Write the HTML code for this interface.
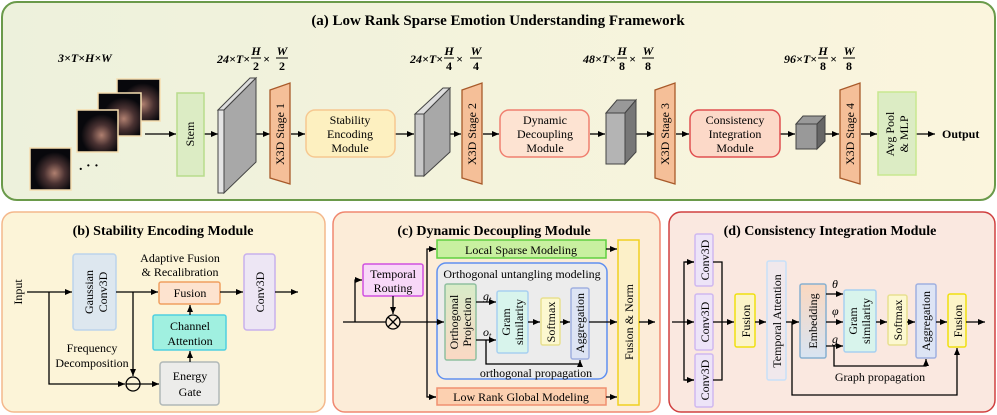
<!DOCTYPE html>
<html><head><meta charset="utf-8"><style>
html,body{margin:0;padding:0;background:#fff}
svg{display:block}
svg text{font-family:"Liberation Serif","DejaVu Serif",serif}
</style></head><body>
<svg width="997" height="415" viewBox="0 0 997 415" xmlns="http://www.w3.org/2000/svg" font-family="Liberation Serif, DejaVu Serif, serif">
<defs>
<marker id="ar" markerWidth="8" markerHeight="8" refX="7" refY="4" orient="auto" markerUnits="userSpaceOnUse"><path d="M0,1 L7,4 L0,7 z" fill="#000"/></marker>
<linearGradient id="ga" x1="0" x2="1"><stop offset="0" stop-color="#edf1dc"/><stop offset="1" stop-color="#fbf5dd"/></linearGradient>
<linearGradient id="gop" x1="0" y1="0" x2="0" y2="1"><stop offset="0" stop-color="#d8ecc8"/><stop offset="1" stop-color="#fbd8c4"/></linearGradient>
<linearGradient id="gem" x1="0" y1="0" x2="0" y2="1"><stop offset="0" stop-color="#fad8c0"/><stop offset="1" stop-color="#d8e4f2"/></linearGradient>
<radialGradient id="face" cx="0.6" cy="0.6" r="0.5"><stop offset="0" stop-color="#b08070"/><stop offset="0.5" stop-color="#4a3232"/><stop offset="1" stop-color="#08080c"/></radialGradient>
</defs>
<rect x="2" y="2" width="993" height="198" rx="15" fill="url(#ga)" stroke="#6a9a4a" stroke-width="2"/>
<text x="498" y="25" font-size="15" font-weight="bold" text-anchor="middle">(a) Low Rank Sparse Emotion Understanding Framework</text>
<g font-size="12" font-style="italic" font-weight="bold">
<text x="58" y="62">3×T×H×W</text>
<text x="250" y="63" text-anchor="end">24×T×</text><text x="256" y="55" text-anchor="middle">H</text><line x1="251" y1="58" x2="261" y2="58" stroke="#000"/><text x="256" y="70" text-anchor="middle" font-style="normal">2</text><text x="263" y="63">×</text><text x="282" y="55" text-anchor="middle">W</text><line x1="276" y1="58" x2="288" y2="58" stroke="#000"/><text x="282" y="70" text-anchor="middle" font-style="normal">2</text>
<text x="443" y="63" text-anchor="end">24×T×</text><text x="449" y="55" text-anchor="middle">H</text><line x1="444" y1="58" x2="454" y2="58" stroke="#000"/><text x="449" y="70" text-anchor="middle" font-style="normal">4</text><text x="456" y="63">×</text><text x="476" y="55" text-anchor="middle">W</text><line x1="470" y1="58" x2="482" y2="58" stroke="#000"/><text x="476" y="70" text-anchor="middle" font-style="normal">4</text>
<text x="616" y="63" text-anchor="end">48×T×</text><text x="622" y="55" text-anchor="middle">H</text><line x1="617" y1="58" x2="627" y2="58" stroke="#000"/><text x="622" y="70" text-anchor="middle" font-style="normal">8</text><text x="629" y="63">×</text><text x="648" y="55" text-anchor="middle">W</text><line x1="642" y1="58" x2="654" y2="58" stroke="#000"/><text x="648" y="70" text-anchor="middle" font-style="normal">8</text>
<text x="817" y="63" text-anchor="end">96×T×</text><text x="823" y="55" text-anchor="middle">H</text><line x1="818" y1="58" x2="828" y2="58" stroke="#000"/><text x="823" y="70" text-anchor="middle" font-style="normal">8</text><text x="830" y="63">×</text><text x="849" y="55" text-anchor="middle">W</text><line x1="843" y1="58" x2="855" y2="58" stroke="#000"/><text x="849" y="70" text-anchor="middle" font-style="normal">8</text>
</g>
<g stroke="#f5deb0" stroke-width="1.5">
<rect x="117" y="79" width="43" height="42" fill="url(#face)"/>
<rect x="98" y="93" width="43" height="43" fill="url(#face)"/>
<rect x="77" y="110" width="41" height="42" fill="url(#face)"/>
<rect x="30" y="148" width="41" height="42" fill="url(#face)"/>
</g>
<text x="79" y="170" font-size="14" font-weight="bold">. · ·</text>
<g stroke="#000" stroke-width="1.3" marker-end="url(#ar)">
<line x1="145" y1="134" x2="176" y2="134"/><line x1="204" y1="134" x2="218" y2="134"/>
<line x1="248" y1="134" x2="270" y2="134"/><line x1="291" y1="134" x2="305" y2="134"/>
<line x1="395" y1="134" x2="414" y2="134"/><line x1="438" y1="134" x2="461" y2="134"/>
<line x1="483" y1="134" x2="499" y2="134"/><line x1="590" y1="134" x2="605" y2="134"/>
<line x1="633" y1="134" x2="654" y2="134"/><line x1="676" y1="134" x2="689" y2="134"/>
<line x1="780" y1="134" x2="795" y2="134"/><line x1="821" y1="134" x2="839" y2="134"/>
<line x1="861" y1="134" x2="877" y2="134"/><line x1="916" y1="134" x2="935" y2="134"/>
</g>
<text x="942" y="138" font-size="12" font-weight="bold">Output</text>
<rect x="177" y="93" width="27" height="83" fill="#dcecc4" stroke="#b8dc8c" stroke-width="1.5"/>
<text transform="translate(194,134) rotate(-90)" font-size="12" text-anchor="middle">Stem</text>
<g stroke="#444" stroke-width="1">
<polygon points="218,110 250,78 256,78 224,110" fill="#ddd"/>
<polygon points="224,110 256,78 256,162 224,193" fill="#a8a8a8"/>
<rect x="218" y="110" width="6" height="83" fill="#e4e4e4"/>
<polygon points="415,114 443,88 450,88 424,114" fill="#ddd"/>
<polygon points="424,114 450,88 450,152 424,176" fill="#a8a8a8"/>
<rect x="415" y="114" width="9" height="62" fill="#c8c8c8"/>
<polygon points="606,113 617,100 636,100 625,113" fill="#999"/>
<polygon points="625,113 636,100 636,152 625,164" fill="#777"/>
<rect x="606" y="113" width="19" height="51" fill="#b4b4b4"/>
<polygon points="796,124 803,116 825,116 817,124" fill="#999"/>
<polygon points="817,124 825,116 825,141 817,149" fill="#666"/>
<rect x="796" y="124" width="21" height="25" fill="#999"/>
</g>
<g fill="#f5bf98" stroke="#a85a2a" stroke-width="1.3">
<polygon points="270,90 290,83 290,184 270,178"/>
<polygon points="462,90 482,83 482,184 462,178"/>
<polygon points="655,90 675,83 675,184 655,178"/>
<polygon points="840,90 860,83 860,184 840,178"/>
</g>
<g font-size="12" text-anchor="middle">
<text transform="translate(284,134) rotate(-90)">X3D Stage 1</text>
<text transform="translate(476,134) rotate(-90)">X3D Stage 2</text>
<text transform="translate(669,134) rotate(-90)">X3D Stage 3</text>
<text transform="translate(854,134) rotate(-90)">X3D Stage 4</text>
</g>
<rect x="306" y="110" width="89" height="47" rx="9" fill="#fdf0c0" stroke="#f6c890" stroke-width="1.5"/>
<rect x="500" y="110" width="89" height="47" rx="9" fill="#fde3d2" stroke="#f08070" stroke-width="1.5"/>
<rect x="690" y="110" width="90" height="47" rx="9" fill="#fcd9c8" stroke="#e05050" stroke-width="1.5"/>
<g font-size="12" text-anchor="middle">
<text x="350" y="124">Stability</text><text x="350" y="138">Encoding</text><text x="350" y="152">Module</text>
<text x="545" y="124">Dynamic</text><text x="545" y="138">Decoupling</text><text x="545" y="152">Module</text>
<text x="735" y="124">Consistency</text><text x="735" y="138">Integration</text><text x="735" y="152">Module</text>
</g>
<rect x="878" y="92" width="38" height="83" fill="#dcecc4" stroke="#c8e890" stroke-width="1.5"/>
<text transform="translate(894,134) rotate(-90)" font-size="12" text-anchor="middle">Avg Pool</text>
<text transform="translate(908,134) rotate(-90)" font-size="12" text-anchor="middle">&amp; MLP</text>

<rect x="2" y="212" width="323" height="200" rx="12" fill="#fcf4d8" stroke="#f4b88c" stroke-width="1.5"/>
<text x="163" y="235" font-size="14" font-weight="bold" text-anchor="middle">(b) Stability Encoding Module</text>
<text transform="translate(22,292) rotate(-90)" font-size="12" text-anchor="middle">Input</text>
<rect x="73" y="254" width="43" height="76" rx="3" fill="#dde7ef" stroke="#bcd4ec" stroke-width="1.5"/>
<text transform="translate(93,292) rotate(-90)" font-size="12" text-anchor="middle">Gaussian</text>
<text transform="translate(107,292) rotate(-90)" font-size="12" text-anchor="middle">Conv3D</text>
<rect x="159" y="282" width="61" height="22" rx="2" fill="#fde3cf" stroke="#f0a060" stroke-width="1.5"/>
<text x="190" y="297" font-size="12" text-anchor="middle">Fusion</text>
<text x="180" y="262" font-size="12" text-anchor="middle">Adaptive Fusion</text>
<text x="180" y="276" font-size="12" text-anchor="middle">&amp; Recalibration</text>
<rect x="244" y="254" width="31" height="76" rx="3" fill="#ede6f4" stroke="#c8b0ec" stroke-width="1.5"/>
<text transform="translate(264,292) rotate(-90)" font-size="12" text-anchor="middle">Conv3D</text>
<rect x="153" y="315" width="73" height="35" rx="2" fill="#a0f0e0" stroke="#50d0e0" stroke-width="1.5"/>
<text x="190" y="330" font-size="12" text-anchor="middle">Channel</text><text x="190" y="345" font-size="12" text-anchor="middle">Attention</text>
<rect x="160" y="362" width="59" height="43" rx="3" fill="#ececea" stroke="#b0b8b8" stroke-width="1.5"/>
<text x="190" y="380" font-size="12" text-anchor="middle">Energy</text><text x="190" y="396" font-size="12" text-anchor="middle">Gate</text>
<text x="92" y="352" font-size="12" text-anchor="middle">Frequency</text><text x="92" y="367" font-size="12" text-anchor="middle">Decomposition</text>
<g stroke="#000" stroke-width="1.3" fill="none">
<line x1="27" y1="292" x2="72" y2="292" marker-end="url(#ar)"/>
<line x1="116" y1="292" x2="158" y2="292" marker-end="url(#ar)"/>
<line x1="220" y1="292" x2="243" y2="292" marker-end="url(#ar)"/>
<line x1="275" y1="292" x2="298" y2="292" marker-end="url(#ar)"/>
<polyline points="49,292 49,384 125,384" marker-end="url(#ar)"/>
<line x1="133" y1="292" x2="133" y2="376" marker-end="url(#ar)"/>
<circle cx="133" cy="384" r="7" fill="none"/>
<line x1="126" y1="384" x2="140" y2="384"/>
<line x1="140" y1="384" x2="159" y2="384" marker-end="url(#ar)"/>
<line x1="190" y1="362" x2="190" y2="351" marker-end="url(#ar)"/>
<line x1="190" y1="315" x2="190" y2="305" marker-end="url(#ar)"/>
</g>

<rect x="333" y="212" width="327" height="200" rx="12" fill="#fcecd8" stroke="#f08870" stroke-width="1.5"/>
<text x="494" y="235" font-size="14" font-weight="bold" text-anchor="middle">(c) Dynamic Decoupling Module</text>
<rect x="437" y="263" width="170" height="116" rx="9" fill="#ececec" stroke="#6090f0" stroke-width="1.5"/>
<text x="522" y="278" font-size="12" text-anchor="middle">Orthogonal untangling modeling</text>
<rect x="437" y="240" width="169" height="18" fill="#c8f0a0" stroke="#60d040" stroke-width="1.5"/>
<text x="521" y="254" font-size="12" text-anchor="middle">Local Sparse Modeling</text>
<rect x="437" y="388" width="169" height="17" fill="#fcd0b0" stroke="#f09070" stroke-width="1.5"/>
<text x="521" y="401" font-size="12" text-anchor="middle">Low Rank Global Modeling</text>
<rect x="363" y="264" width="60" height="32" rx="2" fill="#f8d8f8" stroke="#d050e0" stroke-width="1.5"/>
<text x="393" y="278" font-size="12" text-anchor="middle">Temporal</text><text x="393" y="292" font-size="12" text-anchor="middle">Routing</text>
<rect x="445" y="284" width="31" height="76" rx="2" fill="url(#gop)" stroke="#90c0a0" stroke-width="1.5"/>
<text transform="translate(458,322) rotate(-90)" font-size="12" text-anchor="middle">Orthogonal</text>
<text transform="translate(471,322) rotate(-90)" font-size="12" text-anchor="middle">Projection</text>
<rect x="497" y="291" width="31" height="62" rx="2" fill="#d8f4ec" stroke="#a8d0f0" stroke-width="1.5"/>
<text transform="translate(510,322) rotate(-90)" font-size="12" text-anchor="middle">Gram</text>
<text transform="translate(523,322) rotate(-90)" font-size="12" text-anchor="middle">similarity</text>
<rect x="541" y="298" width="19" height="47" rx="2" fill="#fcf8d0" stroke="#e8e090" stroke-width="1.5"/>
<text transform="translate(555,322) rotate(-90)" font-size="12" text-anchor="middle">Softmax</text>
<rect x="571" y="288" width="18" height="71" rx="2" fill="#dde4f4" stroke="#a0b0e0" stroke-width="1.5"/>
<text transform="translate(584,323) rotate(-90)" font-size="12" text-anchor="middle">Aggregation</text>
<rect x="618" y="240" width="21" height="165" fill="#fcf0c8" stroke="#f0d020" stroke-width="1.5"/>
<text transform="translate(633,322) rotate(-90)" font-size="12" text-anchor="middle">Fusion &amp; Norm</text>
<text x="483" y="300" font-size="12" font-style="italic">g<tspan font-size="8" dy="2">t</tspan></text>
<text x="483" y="336" font-size="12" font-style="italic">o<tspan font-size="8" dy="2">t</tspan></text>
<text x="536" y="377" font-size="12" text-anchor="middle">orthogonal propagation</text>
<g stroke="#000" stroke-width="1.3" fill="none">
<line x1="343" y1="322" x2="386" y2="322"/>
<line x1="400" y1="322" x2="444" y2="322" marker-end="url(#ar)"/>
<polyline points="355,322 355,280 362,280" marker-end="url(#ar)"/>
<line x1="393" y1="296" x2="393" y2="314" marker-end="url(#ar)"/>
<circle cx="393" cy="322" r="7"/>
<line x1="388" y1="317" x2="398" y2="327"/><line x1="398" y1="317" x2="388" y2="327"/>
<polyline points="436,249 427,249 427,397 436,397"/>
<line x1="428" y1="249" x2="436" y2="249" marker-end="url(#ar)"/>
<line x1="428" y1="397" x2="436" y2="397" marker-end="url(#ar)"/>
<line x1="476" y1="302" x2="496" y2="302" marker-end="url(#ar)"/>
<line x1="476" y1="340" x2="496" y2="340" marker-end="url(#ar)"/>
<polyline points="486,340 486,364 580,364 580,360" marker-end="url(#ar)"/>
<line x1="528" y1="322" x2="540" y2="322" marker-end="url(#ar)"/>
<line x1="560" y1="322" x2="570" y2="322" marker-end="url(#ar)"/>
<line x1="589" y1="322" x2="617" y2="322" marker-end="url(#ar)"/>
<line x1="606" y1="249" x2="617" y2="249" marker-end="url(#ar)"/>
<line x1="606" y1="397" x2="617" y2="397" marker-end="url(#ar)"/>
<line x1="639" y1="322" x2="655" y2="322" marker-end="url(#ar)"/>
</g>

<rect x="669" y="212" width="326" height="200" rx="12" fill="#fae8e0" stroke="#d04040" stroke-width="1.5"/>
<text x="830" y="235" font-size="14" font-weight="bold" text-anchor="middle">(d) Consistency Integration Module</text>
<g fill="#ede4f8" stroke="#d0b8f0" stroke-width="1.5">
<rect x="695" y="234" width="18" height="52" rx="2"/>
<rect x="695" y="294" width="18" height="56" rx="2"/>
<rect x="695" y="354" width="18" height="53" rx="2"/>
</g>
<g font-size="12" text-anchor="middle">
<text transform="translate(709,260) rotate(-90)">Conv3D</text>
<text transform="translate(709,322) rotate(-90)">Conv3D</text>
<text transform="translate(709,380) rotate(-90)">Conv3D</text>
</g>
<rect x="735" y="294" width="20" height="53" rx="2" fill="#fcf4c8" stroke="#f0e010" stroke-width="1.5"/>
<text transform="translate(750,321) rotate(-90)" font-size="12" text-anchor="middle">Fusion</text>
<rect x="767" y="261" width="19" height="119" rx="2" fill="#f0e8ec" stroke="#c8e0f8" stroke-width="1.5"/>
<text transform="translate(781,321) rotate(-90)" font-size="12" text-anchor="middle">Temporal Attention</text>
<rect x="800" y="284" width="26" height="74" rx="2" fill="url(#gem)" stroke="#88b0d0" stroke-width="1.5"/>
<text transform="translate(817,321) rotate(-90)" font-size="12" text-anchor="middle">Embedding</text>
<rect x="844" y="290" width="32" height="62" rx="2" fill="#d8f4ec" stroke="#a8d0f0" stroke-width="1.5"/>
<text transform="translate(857,321) rotate(-90)" font-size="12" text-anchor="middle">Gram</text>
<text transform="translate(870,321) rotate(-90)" font-size="12" text-anchor="middle">similarity</text>
<rect x="888" y="295" width="19" height="50" rx="2" fill="#fcf8d0" stroke="#e8e090" stroke-width="1.5"/>
<text transform="translate(902,320) rotate(-90)" font-size="12" text-anchor="middle">Softmax</text>
<rect x="916" y="284" width="20" height="74" rx="2" fill="#dde4f4" stroke="#a0b0e0" stroke-width="1.5"/>
<text transform="translate(930,321) rotate(-90)" font-size="12" text-anchor="middle">Aggregation</text>
<rect x="948" y="294" width="18" height="53" rx="2" fill="#fcf4c8" stroke="#f0e010" stroke-width="1.5"/>
<text transform="translate(962,321) rotate(-90)" font-size="12" text-anchor="middle">Fusion</text>
<g font-size="12" font-style="italic">
<text x="832" y="288">θ</text><text x="832" y="315">φ</text><text x="832" y="343">g</text>
</g>
<text x="880" y="381" font-size="12" text-anchor="middle">Graph propagation</text>
<g stroke="#000" stroke-width="1.3" fill="none">
<line x1="672" y1="322" x2="694" y2="322" marker-end="url(#ar)"/>
<polyline points="694,262 684,262 684,380 694,380"/>
<line x1="685" y1="262" x2="694" y2="262" marker-end="url(#ar)"/>
<line x1="685" y1="380" x2="694" y2="380" marker-end="url(#ar)"/>
<polyline points="713,262 722,262 722,380 713,380"/>
<line x1="713" y1="322" x2="734" y2="322" marker-end="url(#ar)"/>
<line x1="755" y1="322" x2="766" y2="322" marker-end="url(#ar)"/>
<line x1="786" y1="322" x2="799" y2="322" marker-end="url(#ar)"/>
<line x1="826" y1="294" x2="843" y2="294" marker-end="url(#ar)"/>
<line x1="826" y1="322" x2="843" y2="322" marker-end="url(#ar)"/>
<line x1="826" y1="346" x2="843" y2="346" marker-end="url(#ar)"/>
<polyline points="834,346 834,366 926,366 926,359" marker-end="url(#ar)"/>
<line x1="876" y1="322" x2="887" y2="322" marker-end="url(#ar)"/>
<line x1="907" y1="322" x2="915" y2="322" marker-end="url(#ar)"/>
<line x1="936" y1="322" x2="947" y2="322" marker-end="url(#ar)"/>
<polyline points="792,322 792,395 957,395 957,348" marker-end="url(#ar)"/>
<line x1="966" y1="322" x2="985" y2="322" marker-end="url(#ar)"/>
</g>
</svg>
</body></html>
